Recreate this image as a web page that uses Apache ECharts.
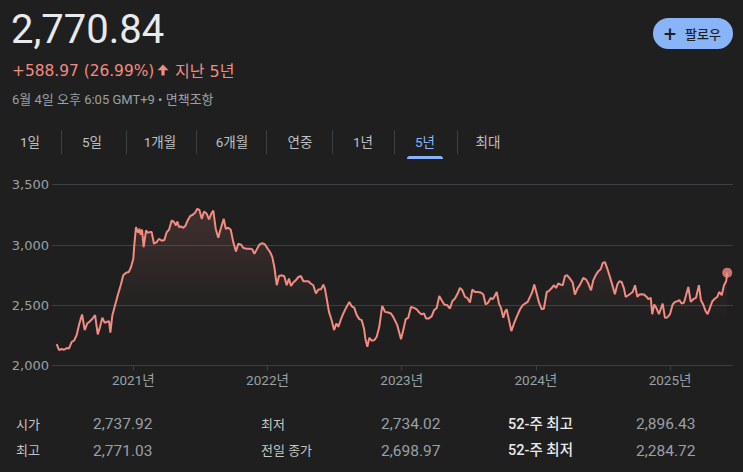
<!DOCTYPE html>
<html>
<head>
<meta charset="utf-8">
<script src="https://cdn.jsdelivr.net/npm/echarts@6/dist/echarts.min.js"></script>
<style>
  html, body { margin: 0; padding: 0; background: #1f1f1f; }
  #chart { width: 743px; height: 472px; }
</style>
</head>
<body>
<div id="chart"></div>
<script>
// time in decimal years, weekly closes
var times = [
  2020.429, 2020.446, 2020.466, 2020.484, 2020.504, 2020.521, 2020.541, 2020.558, 2020.578, 2020.598,
  2020.618, 2020.638, 2020.657, 2020.677, 2020.697, 2020.715, 2020.735, 2020.752, 2020.769, 2020.787,
  2020.802, 2020.819, 2020.829, 2020.844, 2020.864, 2020.884, 2020.906, 2020.925, 2020.946, 2020.966,
  2020.983, 2021.000, 2021.007, 2021.020, 2021.035, 2021.045, 2021.055, 2021.065, 2021.077, 2021.095,
  2021.107, 2021.124, 2021.137, 2021.154, 2021.174, 2021.192, 2021.212, 2021.231, 2021.249, 2021.266,
  2021.286, 2021.303, 2021.318, 2021.328, 2021.341, 2021.355, 2021.373, 2021.390, 2021.405, 2021.423,
  2021.443, 2021.460, 2021.477, 2021.492, 2021.510, 2021.527, 2021.547, 2021.564, 2021.581, 2021.596,
  2021.614, 2021.633, 2021.651, 2021.674, 2021.689, 2021.708, 2021.726, 2021.745, 2021.765, 2021.782,
  2021.803, 2021.820, 2021.845, 2021.870, 2021.887, 2021.902, 2021.920, 2021.939, 2021.961, 2021.981,
  2022.001, 2022.019, 2022.036, 2022.051, 2022.069, 2022.086, 2022.106, 2022.125, 2022.143, 2022.160,
  2022.175, 2022.192, 2022.210, 2022.230, 2022.250, 2022.267, 2022.287, 2022.304, 2022.322, 2022.341,
  2022.361, 2022.379, 2022.399, 2022.416, 2022.428, 2022.441, 2022.458, 2022.478, 2022.496, 2022.513,
  2022.528, 2022.545, 2022.565, 2022.585, 2022.610, 2022.627, 2022.647, 2022.665, 2022.684, 2022.702,
  2022.719, 2022.729, 2022.744, 2022.759, 2022.777, 2022.796, 2022.814, 2022.833, 2022.855, 2022.876,
  2022.900, 2022.920, 2022.937, 2022.967, 2022.995, 2023.012, 2023.030, 2023.049, 2023.069, 2023.092,
  2023.112, 2023.131, 2023.149, 2023.166, 2023.181, 2023.203, 2023.224, 2023.241, 2023.261, 2023.280,
  2023.298, 2023.317, 2023.340, 2023.360, 2023.377, 2023.397, 2023.417, 2023.434, 2023.452, 2023.472,
  2023.489, 2023.509, 2023.526, 2023.546, 2023.566, 2023.589, 2023.608, 2023.626, 2023.645, 2023.663,
  2023.678, 2023.690, 2023.708, 2023.725, 2023.740, 2023.757, 2023.770, 2023.782, 2023.800, 2023.817,
  2023.837, 2023.857, 2023.882, 2023.902, 2023.919, 2023.939, 2023.956, 2023.973, 2023.988, 2024.006,
  2024.023, 2024.043, 2024.060, 2024.081, 2024.098, 2024.118, 2024.135, 2024.150, 2024.167, 2024.185,
  2024.200, 2024.217, 2024.234, 2024.254, 2024.274, 2024.291, 2024.309, 2024.329, 2024.353, 2024.373,
  2024.391, 2024.411, 2024.428, 2024.448, 2024.465, 2024.483, 2024.498, 2024.515, 2024.532, 2024.552,
  2024.569, 2024.589, 2024.607, 2024.622, 2024.639, 2024.657, 2024.669, 2024.689, 2024.706, 2024.721,
  2024.739, 2024.756, 2024.771, 2024.788, 2024.806, 2024.826, 2024.838, 2024.856, 2024.867, 2024.882,
  2024.900, 2024.917, 2024.932, 2024.945, 2024.962, 2024.979, 2024.999, 2025.019, 2025.037, 2025.054,
  2025.069, 2025.086, 2025.104, 2025.119, 2025.136, 2025.154, 2025.173, 2025.193, 2025.215, 2025.230,
  2025.247, 2025.265, 2025.280, 2025.297, 2025.315, 2025.335, 2025.352, 2025.367, 2025.385, 2025.402,
  2025.418, 2025.426
];
var closes = [
  2179, 2130, 2138, 2132, 2146, 2143, 2198, 2207, 2254, 2350,
  2425, 2295, 2350, 2369, 2391, 2419, 2259, 2322, 2397, 2355,
  2363, 2369, 2273, 2419, 2501, 2584, 2667, 2749, 2771, 2776,
  2818, 2887, 2997, 3148, 3102, 3135, 3085, 3129, 2983, 3121,
  3102, 3107, 3107, 3011, 3024, 3052, 3036, 3041, 3107, 3127,
  3204, 3190, 3162, 3195, 3148, 3154, 3143, 3162, 3204, 3239,
  3251, 3267, 3300, 3292, 3217, 3278, 3259, 3212, 3259, 3286,
  3135, 3061, 3135, 3217, 3135, 3143, 3127, 3024, 2947, 3011,
  3003, 2975, 2970, 2970, 2964, 2928, 2964, 3003, 3016, 3005,
  2970, 2942, 2900, 2818, 2667, 2743, 2749, 2741, 2667, 2722,
  2660, 2689, 2708, 2735, 2743, 2700, 2700, 2700, 2681, 2667,
  2598, 2631, 2634, 2672, 2639, 2557, 2446, 2377, 2295, 2350,
  2322, 2377, 2433, 2479, 2529, 2493, 2479, 2419, 2386, 2377,
  2309, 2226, 2157, 2231, 2207, 2212, 2240, 2322, 2496, 2446,
  2441, 2433, 2405, 2336, 2220, 2295, 2386, 2397, 2487, 2479,
  2466, 2441, 2425, 2433, 2392, 2392, 2411, 2460, 2479, 2578,
  2543, 2507, 2501, 2474, 2534, 2557, 2598, 2644, 2625, 2570,
  2562, 2524, 2631, 2611, 2611, 2606, 2592, 2507, 2524, 2562,
  2551, 2570, 2611, 2515, 2479, 2397, 2446, 2468, 2377, 2287,
  2350, 2405, 2468, 2501, 2515, 2529, 2570, 2611, 2672, 2598,
  2524, 2468, 2474, 2611, 2620, 2644, 2667, 2644, 2681, 2672,
  2667, 2743, 2749, 2722, 2689, 2590, 2639, 2672, 2727, 2716,
  2681, 2625, 2708, 2755, 2782, 2799, 2851, 2859, 2805, 2735,
  2672, 2592, 2672, 2700, 2694, 2639, 2570, 2584, 2598, 2611,
  2667, 2570, 2590, 2592, 2590, 2570, 2551, 2562, 2427, 2507,
  2474, 2427, 2474, 2515, 2397, 2400, 2425, 2507, 2529, 2534,
  2543, 2515, 2524, 2584, 2653, 2529, 2551, 2562, 2667, 2543,
  2507, 2452, 2427, 2479, 2534, 2557, 2570, 2611, 2584, 2667,
  2699, 2770.84
];
var yearTicks = [2021, 2022, 2023, 2024, 2025];
var priceTicks = [2000, 2500, 3000, 3500];
var tabs = ['1일', '5일', '1개월', '6개월', '연중', '1년', '5년', '최대'];
var tabCenters = [30, 92, 160, 232, 300, 363, 425, 488];
var statLabels = [['시가', '최고'], ['최저', '전일 종가'], ['52-주 최고', '52-주 최저']];
var statValues = [['2,737.92', '2,771.03'], ['2,734.02', '2,698.97'], ['2,896.43', '2,284.72']];

var FONT = 'Roboto, "Noto Sans CJK KR", sans-serif';
var WIDE = '"DejaVu Sans", "Noto Sans CJK KR", sans-serif';
var RED = '#f28b82';
var BLUE = '#8ab4f8';

var series = times.map(function (t, i) { return [t, closes[i]]; });
var last = series[series.length - 1];

var graphics = [
  { type: 'text', left: 11, top: 9, style: { text: '2,770.84', fill: '#e8eaed', font: '40px ' + FONT } },
  { type: 'text', x: 12, y: 71, style: { text: '+588.97 (26.99%)', fill: RED, font: '15.4px ' + WIDE, verticalAlign: 'middle' } },
  {
    type: 'polygon',
    shape: { points: [[163, 64.5], [168.5, 70.3], [164.6, 70.3], [164.6, 75.5], [161.4, 75.5], [161.4, 70.3], [157.5, 70.3]] },
    style: { fill: RED }
  },
  { type: 'text', x: 175, y: 71, style: { text: '지난 5년', fill: RED, font: '16px ' + WIDE, verticalAlign: 'middle' } },
  { type: 'text', x: 12, y: 99.5, style: { text: '6월 4일 오후 6:05 GMT+9 • 면책조항', fill: '#9aa0a6', font: '13px ' + FONT, verticalAlign: 'middle' } },
  { type: 'rect', shape: { x: 653, y: 18, width: 80, height: 31, r: 15.5 }, style: { fill: BLUE } },
  { type: 'text', x: 670, y: 34, style: { text: '+', fill: '#1f1f1f', font: '22px ' + FONT, align: 'center', verticalAlign: 'middle' } },
  { type: 'text', x: 685, y: 34, style: { text: '팔로우', fill: '#1f1f1f', font: '500 13px ' + FONT, verticalAlign: 'middle' } }
];

tabs.forEach(function (name, i) {
  graphics.push({
    type: 'text', x: tabCenters[i], y: 142,
    style: { text: name, fill: name === '5년' ? BLUE : '#bdc1c6', font: '13.5px ' + FONT, align: 'center', verticalAlign: 'middle' }
  });
  if (i > 0) {
    var sx = Math.round((tabCenters[i - 1] + tabCenters[i]) / 2) + 0.5;
    graphics.push({ type: 'line', shape: { x1: sx, y1: 130, x2: sx, y2: 154 }, style: { stroke: '#3c4043', lineWidth: 1 } });
  }
});
graphics.push({ type: 'rect', shape: { x: 407, y: 156, width: 36, height: 3, r: [3, 3, 0, 0] }, style: { fill: BLUE } });

var colX = [[16, 93], [261, 381], [508, 636]];
statLabels.forEach(function (col, c) {
  col.forEach(function (label, r) {
    var y = 424 + r * 26.5;
    var strong = c === 2;
    graphics.push({
      type: 'text', x: colX[c][0], y: y,
      style: { text: label, fill: strong ? '#e8eaed' : '#c4c7c5', font: (strong ? '500 14.5px ' : '13px ') + FONT, verticalAlign: 'middle' }
    });
    graphics.push({
      type: 'text', x: colX[c][1], y: y,
      style: { text: statValues[c][r], fill: '#9aa0a6', font: '15.5px ' + FONT, verticalAlign: 'middle' }
    });
  });
});

var option = {
  backgroundColor: '#1f1f1f',
  animation: false,
  textStyle: { fontFamily: FONT },
  grid: { left: 52, right: 10, top: 184.7, bottom: 106.3, containLabel: false },
  xAxis: {
    type: 'value',
    min: 2020.394,
    max: 2025.469,
    axisLine: { show: false },
    splitLine: { show: false },
    axisTick: { show: true, customValues: yearTicks, length: 5, lineStyle: { color: '#3c4043' } },
    axisLabel: {
      customValues: yearTicks, color: '#9aa0a6', fontSize: 13.5, margin: 8,
      formatter: function (v) { return Math.round(v) + '년'; }
    }
  },
  yAxis: {
    type: 'value',
    min: priceTicks[0],
    max: priceTicks[priceTicks.length - 1],
    interval: 500,
    axisLine: { show: false },
    axisTick: { show: false },
    splitLine: { lineStyle: { color: '#3c4043', width: 1 } },
    axisLabel: {
      color: '#9aa0a6', fontSize: 13, fontFamily: WIDE, margin: 3,
      formatter: function (v) { return v.toLocaleString('en-US'); }
    }
  },
  series: [
    {
      type: 'line',
      data: series,
      symbol: 'none',
      lineStyle: { color: RED, width: 2 },
      areaStyle: {
        color: new echarts.graphic.LinearGradient(0, 0, 0, 1, [
          { offset: 0, color: 'rgba(242,139,130,0.22)' },
          { offset: 0.72, color: 'rgba(242,139,130,0)' },
          { offset: 1, color: 'rgba(242,139,130,0)' }
        ])
      }
    },
    {
      type: 'scatter',
      data: [last],
      symbolSize: 10,
      itemStyle: { color: RED }
    }
  ],
  graphic: graphics
};

var myChart = echarts.init(document.getElementById('chart'), null, { renderer: 'svg' });
myChart.setOption(option);
</script>
</body>
</html>
